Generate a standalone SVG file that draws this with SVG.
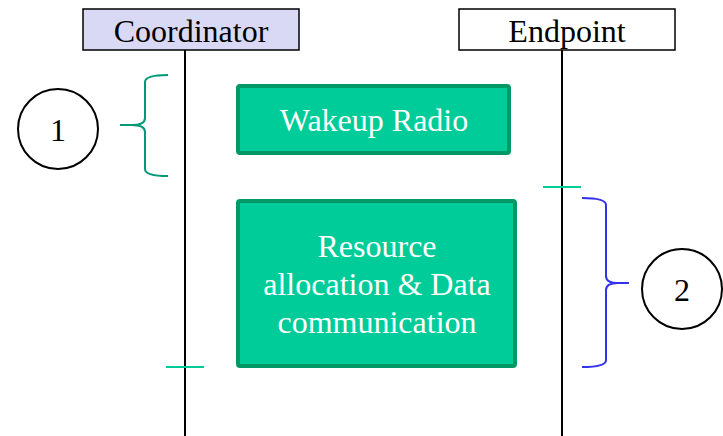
<svg xmlns="http://www.w3.org/2000/svg" width="723" height="436" viewBox="0 0 723 436">
<style>
.t{font-family:"Liberation Serif","Times New Roman",serif;font-size:32px;text-anchor:middle}
.w{fill:#ffffff}
.k{fill:#000000}
.life{stroke:#000;stroke-width:2;fill:none}
.act{fill:#00cc99;stroke:#009966;stroke-width:4}
.tick{stroke:#00cc99;stroke-width:2}
.circ{fill:#fff;stroke:#000;stroke-width:2}
</style>
<rect width="723" height="436" fill="#fff"/>
<g id="connectors">
<line class="life" x1="185" y1="50" x2="185" y2="436"/>
<line class="life" x1="562" y1="50" x2="562" y2="436"/>
<line class="tick" x1="543" y1="187" x2="581" y2="187"/>
<line class="tick" x1="166" y1="367" x2="204" y2="367"/>
<path d="M168,75 Q145,75 145,82 L145,118 Q145,125 132,125 L120,125 M132,125 Q145,125 145,132 L145,169 Q145,176 168,176" fill="none" stroke="#009977" stroke-width="2"/>
<path d="M582,198 Q606,198 606,205 L606,276 Q606,283 618,283 L629,283 M618,283 Q606,283 606,290 L606,360 Q606,367 582,367" fill="none" stroke="#3333ee" stroke-width="2"/>
</g>
<g id="coordinator">
<rect x="83" y="9" width="216" height="41" fill="#d9d9f5" stroke="#000" stroke-width="1.5"/>
<text class="t k" x="191" y="42">Coordinator</text>
</g>
<g id="endpoint">
<rect x="459" y="9" width="216" height="41" fill="#fff" stroke="#000" stroke-width="1.5"/>
<text class="t k" x="567" y="42">Endpoint</text>
</g>
<g id="wakeup">
<rect class="act" x="238" y="86" width="271" height="67" rx="2"/>
<text class="t w" x="374" y="131">Wakeup Radio</text>
</g>
<g id="resource">
<rect class="act" x="238" y="201" width="277" height="165" rx="2"/>
<text class="t w" x="377" y="257">Resource</text>
<text class="t w" x="377" y="295">allocation &amp; Data</text>
<text class="t w" x="377" y="333">communication</text>
</g>
<g id="step1">
<circle class="circ" cx="58" cy="129" r="40"/>
<text class="t k" x="58" y="141">1</text>
</g>
<g id="step2">
<circle class="circ" cx="682" cy="289" r="40"/>
<text class="t k" x="682" y="301">2</text>
</g>
</svg>
